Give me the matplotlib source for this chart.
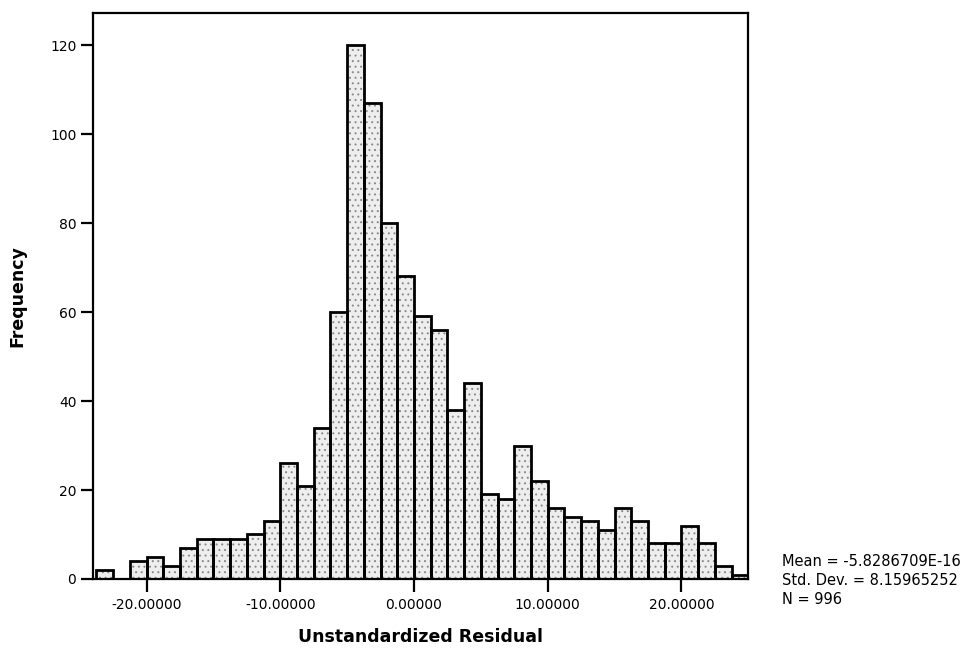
import matplotlib
matplotlib.use('Agg')
import matplotlib.pyplot as plt
import numpy as np

# histogram of residuals (SPSS style)
bin_start = -23.75
bin_width = 1.25
counts = [2, 0, 4, 5, 3, 7, 9, 9, 9, 10, 13, 26, 21, 34, 60, 120, 107, 80, 68, 59,
          56, 38, 44, 19, 18, 30, 22, 16, 14, 13, 11, 16, 13, 8, 8, 12, 8, 3, 1]
x_ticks = [-20, -10, 0, 10, 20]
y_ticks = [0, 20, 40, 60, 80, 100, 120]
stats_lines = ["Mean = -5.8286709E-16", "Std. Dev. = 8.15965252", "N = 996"]

plt.rcParams['font.family'] = ['DejaVu Sans']

fig = plt.figure(figsize=(9.75, 6.59), dpi=100)
ax = fig.add_axes([0.0954, 0.1214, 0.672, 0.8589])

lefts = bin_start + bin_width * np.arange(len(counts))
# stippled fill first, then the black outlines on top
plt.rcParams['hatch.linewidth'] = 0.7
ax.bar(lefts, counts, width=bin_width, align='edge', facecolor='#eeeeee',
       edgecolor='#8a8a8a', hatch='...', linewidth=0)
ax.bar(lefts, counts, width=bin_width, align='edge', facecolor='none',
       edgecolor='black', linewidth=2.0)

ax.set_xlim(-24, 25)
ax.set_ylim(0, 127.2)
ax.set_xticks(x_ticks)
ax.set_xticklabels(['%.5f' % v for v in x_ticks])
ax.set_yticks(y_ticks)
for s in ax.spines.values():
    s.set_linewidth(1.6)
ax.tick_params(axis='both', direction='out', length=9, width=1.6, labelsize=10)
ax.tick_params(axis='x', pad=5)
ax.tick_params(axis='y', pad=3)

ax.set_xlabel('Unstandardized Residual', fontsize=12.5, fontweight='bold', labelpad=11)
ax.set_ylabel('Frequency', fontsize=12.5, fontweight='bold', labelpad=17)

# summary statistics at the lower right
for i, line in enumerate(stats_lines):
    fig.text(782 / 975, 1 - (562 + i * 18.5) / 659, line, fontsize=10.5,
             ha='left', va='center')

fig.savefig('out.png', dpi=100)
